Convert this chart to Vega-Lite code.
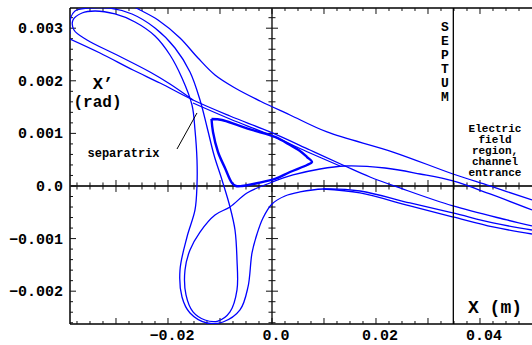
{
 "$schema": "https://vega.github.io/schema/vega-lite/v6.json",
 "width": 462, "height": 316,
 "autosize": {"type": "none"},
 "padding": {"left": 70, "top": 8, "right": 0, "bottom": 21},
 "background": "white",
 "config": {"view": {"stroke": null}},
 "datasets": {
  "xlab": [{"v":-0.02,"t":"−0.02"},{"v":0,"t":"0.0"},{"v":0.02,"t":"0.02"},{"v":0.04,"t":"0.04"}],
  "ylab": [{"v":0.003,"t":"0.003"},{"v":0.002,"t":"0.002"},{"v":0.001,"t":"0.001"},{"v":0,"t":"0.0"},{"v":-0.001,"t":"−0.001"},{"v":-0.002,"t":"−0.002"}],
  "xminor": [{"v":-0.0375},{"v":-0.035},{"v":-0.0325},{"v":-0.0275},{"v":-0.025},{"v":-0.0225},{"v":-0.0175},{"v":-0.015},{"v":-0.0125},{"v":-0.0075},{"v":-0.005},{"v":-0.0025},{"v":0.0025},{"v":0.005},{"v":0.0075},{"v":0.0125},{"v":0.015},{"v":0.0175},{"v":0.0225},{"v":0.025},{"v":0.0275},{"v":0.0325},{"v":0.035},{"v":0.0375},{"v":0.0425},{"v":0.045},{"v":0.0475}],
  "xmajor": [{"v":-0.03},{"v":-0.02},{"v":-0.01},{"v":0},{"v":0.01},{"v":0.02},{"v":0.03},{"v":0.04}],
  "yminor": [{"v":-0.0026},{"v":-0.0024},{"v":-0.0022},{"v":-0.0018},{"v":-0.0016},{"v":-0.0014},{"v":-0.0012},{"v":-0.0008},{"v":-0.0006},{"v":-0.0004},{"v":-0.0002},{"v":0.0002},{"v":0.0004},{"v":0.0006},{"v":0.0008},{"v":0.0012},{"v":0.0014},{"v":0.0016},{"v":0.0018},{"v":0.0022},{"v":0.0024},{"v":0.0026},{"v":0.0028},{"v":0.0032}],
  "ymajor": [{"v":-0.002},{"v":-0.001},{"v":0},{"v":0.001},{"v":0.002},{"v":0.003}],
  "curves": [
   {"c":"tri","i":1,"x":-0.011635,"y":0.001274},{"c":"tri","i":2,"x":-0.009615,"y":0.001255},{"c":"tri","i":3,"x":-0.006731,"y":0.00116},{"c":"tri","i":4,"x":-0.003846,"y":0.001065},{"c":"tri","i":5,"x":0.000577,"y":0.000932},{"c":"tri","i":6,"x":0.003462,"y":0.000779},{"c":"tri","i":7,"x":0.005385,"y":0.000665},{"c":"tri","i":8,"x":0.006731,"y":0.000551},{"c":"tri","i":9,"x":0.007692,"y":0.000456},{"c":"tri","i":10,"x":0.006731,"y":0.000399},{"c":"tri","i":11,"x":0.003462,"y":0.000266},{"c":"tri","i":12,"x":0.000577,"y":0.000133},{"c":"tri","i":13,"x":-0.002692,"y":0.000057},{"c":"tri","i":14,"x":-0.005769,"y":0},{"c":"tri","i":15,"x":-0.006923,"y":0},{"c":"tri","i":16,"x":-0.007692,"y":0.000057},{"c":"tri","i":17,"x":-0.009038,"y":0.000342},{"c":"tri","i":18,"x":-0.010385,"y":0.000646},{"c":"tri","i":19,"x":-0.011346,"y":0.001027},{"c":"tri","i":20,"x":-0.011635,"y":0.001274},
   {"c":"s","i":1,"x":-0.038846,"y":0.002795},{"c":"s","i":2,"x":-0.033077,"y":0.002529},{"c":"s","i":3,"x":-0.026731,"y":0.002205},{"c":"s","i":4,"x":-0.021538,"y":0.001958},{"c":"s","i":5,"x":-0.015192,"y":0.001635},{"c":"s","i":6,"x":-0.008077,"y":0.001331},{"c":"s","i":7,"x":-0.000385,"y":0.001027},{"c":"s","i":8,"x":0.007308,"y":0.000684},{"c":"s","i":9,"x":0.014038,"y":0.00038},{"c":"s","i":10,"x":0.018846,"y":0.000171},{"c":"s","i":11,"x":0.024615,"y":-0.000038},{"c":"s","i":12,"x":0.034808,"y":-0.00038},{"c":"s","i":13,"x":0.045192,"y":-0.000646},{"c":"s","i":14,"x":0.05,"y":-0.00076},
   {"c":"s2","i":1,"x":-0.015192,"y":0.001578},{"c":"s2","i":2,"x":-0.008077,"y":0.001274},{"c":"s2","i":3,"x":-0.000385,"y":0.00097},{"c":"s2","i":4,"x":0.007308,"y":0.000627},{"c":"s2","i":5,"x":0.013077,"y":0.00038},
   {"c":"u","i":1,"x":-0.027692,"y":0.00346},{"c":"u","i":2,"x":-0.025385,"y":0.003346},{"c":"u","i":3,"x":-0.021923,"y":0.003156},{"c":"u","i":4,"x":-0.017692,"y":0.002814},{"c":"u","i":5,"x":-0.014231,"y":0.002433},{"c":"u","i":6,"x":-0.010962,"y":0.00211},{"c":"u","i":7,"x":-0.007115,"y":0.001863},{"c":"u","i":8,"x":-0.002308,"y":0.001616},{"c":"u","i":9,"x":0.003462,"y":0.00135},{"c":"u","i":10,"x":0.010577,"y":0.001027},{"c":"u","i":11,"x":0.023269,"y":0.000646},{"c":"u","i":12,"x":0.034808,"y":0.000228},{"c":"u","i":13,"x":0.041923,"y":0},{"c":"u","i":14,"x":0.05,"y":-0.000266},
   {"c":"a","i":1,"x":-0.038846,"y":0.00289},{"c":"a","i":2,"x":-0.038846,"y":0.003156},{"c":"a","i":3,"x":-0.037885,"y":0.003327},{"c":"a","i":4,"x":-0.035385,"y":0.00338},{"c":"a","i":5,"x":-0.031154,"y":0.00338},{"c":"a","i":6,"x":-0.026923,"y":0.00327},{"c":"a","i":7,"x":-0.0225,"y":0.003004},{"c":"a","i":8,"x":-0.018654,"y":0.002624},{"c":"a","i":9,"x":-0.015769,"y":0.002167},{"c":"a","i":10,"x":-0.013846,"y":0.001635},{"c":"a","i":11,"x":-0.0125,"y":0.001122},{"c":"a","i":12,"x":-0.011154,"y":0.000589},{"c":"a","i":13,"x":-0.009615,"y":0.000114},{"c":"a","i":14,"x":-0.008077,"y":-0.000399},{"c":"a","i":15,"x":-0.007115,"y":-0.000837},{"c":"a","i":16,"x":-0.006731,"y":-0.001407},{"c":"a","i":17,"x":-0.006731,"y":-0.001977},{"c":"a","i":18,"x":-0.008077,"y":-0.002395},{"c":"a","i":19,"x":-0.010385,"y":-0.002567},{"c":"a","i":20,"x":-0.012885,"y":-0.002548},{"c":"a","i":21,"x":-0.015192,"y":-0.002395},{"c":"a","i":22,"x":-0.016538,"y":-0.002072},{"c":"a","i":23,"x":-0.016731,"y":-0.001597},{"c":"a","i":24,"x":-0.015769,"y":-0.001217},{"c":"a","i":25,"x":-0.013846,"y":-0.000875},{"c":"a","i":26,"x":-0.010962,"y":-0.000551},{"c":"a","i":27,"x":-0.008077,"y":-0.000399},{"c":"a","i":28,"x":-0.004808,"y":-0.000133},{"c":"a","i":29,"x":-0.000385,"y":0.000057},{"c":"a","i":30,"x":0.004038,"y":0.000209},{"c":"a","i":31,"x":0.009231,"y":0.000323},{"c":"a","i":32,"x":0.014038,"y":0.00038},{"c":"a","i":33,"x":0.021731,"y":0.000342},{"c":"a","i":34,"x":0.028462,"y":0.000228},{"c":"a","i":35,"x":0.034808,"y":0.000095},{"c":"a","i":36,"x":0.041923,"y":-0.000152},{"c":"a","i":37,"x":0.05,"y":-0.000456},
   {"c":"b","i":1,"x":-0.015192,"y":0.001635},{"c":"b","i":2,"x":-0.019615,"y":0.001939},{"c":"b","i":3,"x":-0.023462,"y":0.002167},{"c":"b","i":4,"x":-0.029808,"y":0.00249},{"c":"b","i":5,"x":-0.035577,"y":0.002776},{"c":"b","i":6,"x":-0.038077,"y":0.002966},{"c":"b","i":7,"x":-0.038269,"y":0.003156},{"c":"b","i":8,"x":-0.036538,"y":0.003289},{"c":"b","i":9,"x":-0.034038,"y":0.003327},{"c":"b","i":10,"x":-0.030192,"y":0.00327},{"c":"b","i":11,"x":-0.026346,"y":0.003118},{"c":"b","i":12,"x":-0.0225,"y":0.002852},{"c":"b","i":13,"x":-0.019615,"y":0.00249},{"c":"b","i":14,"x":-0.017308,"y":0.002053},{"c":"b","i":15,"x":-0.015385,"y":0.00154},{"c":"b","i":16,"x":-0.014808,"y":0.001065},{"c":"b","i":17,"x":-0.014423,"y":0.000494},{"c":"b","i":18,"x":-0.014423,"y":0.000019},{"c":"b","i":19,"x":-0.014808,"y":-0.000456},{"c":"b","i":20,"x":-0.016346,"y":-0.00097},{"c":"b","i":21,"x":-0.017692,"y":-0.001597},{"c":"b","i":22,"x":-0.017308,"y":-0.00211},{"c":"b","i":23,"x":-0.015769,"y":-0.002414},{"c":"b","i":24,"x":-0.0125,"y":-0.002605},{"c":"b","i":25,"x":-0.009423,"y":-0.002586},{"c":"b","i":26,"x":-0.006154,"y":-0.002357},{"c":"b","i":27,"x":-0.004615,"y":-0.00192},{"c":"b","i":28,"x":-0.003846,"y":-0.001274},{"c":"b","i":29,"x":-0.002885,"y":-0.000913},{"c":"b","i":30,"x":-0.001731,"y":-0.000608},{"c":"b","i":31,"x":0,"y":-0.000342},{"c":"b","i":32,"x":0.0025,"y":-0.00019},{"c":"b","i":33,"x":0.005385,"y":-0.000114},{"c":"b","i":34,"x":0.009808,"y":-0.000057},{"c":"b","i":35,"x":0.016923,"y":-0.000095},{"c":"b","i":36,"x":0.026538,"y":-0.000323},{"c":"b","i":37,"x":0.034808,"y":-0.000513},{"c":"b","i":38,"x":0.0425,"y":-0.000703},{"c":"b","i":39,"x":0.05,"y":-0.000837},
   {"c":"l2","i":1,"x":0.009808,"y":-0.000057},{"c":"l2","i":2,"x":0.016923,"y":-0.000133},{"c":"l2","i":3,"x":0.026538,"y":-0.00038},{"c":"l2","i":4,"x":0.034808,"y":-0.000589},{"c":"l2","i":5,"x":0.0425,"y":-0.000779},{"c":"l2","i":6,"x":0.05,"y":-0.000913}
  ]
 },
 "encoding": {
  "x": {"type": "quantitative", "scale": {"domain": [-0.038846, 0.05], "nice": false, "zero": false}, "axis": null},
  "y": {"type": "quantitative", "scale": {"domain": [-0.002624, 0.003384], "nice": false, "zero": false}, "axis": null}
 },
 "layer": [
  {"data": {"values": [{"k": 1}]}, "mark": {"type": "rule", "color": "#000", "strokeWidth": 1.5}, "encoding": {"x": {"datum": -0.038846}, "x2": {"datum": 0.05}, "y": {"datum": 0.003384}}},
  {"data": {"values": [{"k": 1}]}, "mark": {"type": "rule", "color": "#000", "strokeWidth": 1.5}, "encoding": {"x": {"datum": -0.038846}, "x2": {"datum": 0.05}, "y": {"datum": -0.002624}}},
  {"data": {"values": [{"k": 1}]}, "mark": {"type": "rule", "color": "#000", "strokeWidth": 1.5}, "encoding": {"x": {"datum": -0.038846}, "y": {"datum": -0.002624}, "y2": {"datum": 0.003384}}},
  {"data": {"values": [{"k": 1}]}, "mark": {"type": "rule", "color": "#333", "strokeWidth": 1.8}, "encoding": {"x": {"datum": -0.038846}, "x2": {"datum": 0.05}, "y": {"datum": 0}}},
  {"data": {"values": [{"k": 1}]}, "mark": {"type": "rule", "color": "#222", "strokeWidth": 1.5}, "encoding": {"x": {"datum": 0}, "y": {"datum": -0.002624}, "y2": {"datum": 0.003384}}},
  {"data": {"name": "xminor"}, "mark": {"type": "rule", "color": "#111", "strokeWidth": 1}, "encoding": {"x": {"field": "v"}, "y": {"datum": -0.002624}, "y2": {"datum": -0.002567}}},
  {"data": {"name": "xmajor"}, "mark": {"type": "rule", "color": "#111", "strokeWidth": 1}, "encoding": {"x": {"field": "v"}, "y": {"datum": -0.002624}, "y2": {"datum": -0.00251}}},
  {"data": {"name": "xminor"}, "mark": {"type": "rule", "color": "#111", "strokeWidth": 1}, "encoding": {"x": {"field": "v"}, "y": {"datum": 0.003384}, "y2": {"datum": 0.003327}}},
  {"data": {"name": "xmajor"}, "mark": {"type": "rule", "color": "#111", "strokeWidth": 1}, "encoding": {"x": {"field": "v"}, "y": {"datum": 0.003384}, "y2": {"datum": 0.00327}}},
  {"data": {"name": "xminor"}, "mark": {"type": "rule", "color": "#111", "strokeWidth": 1}, "encoding": {"x": {"field": "v"}, "y": {"datum": -0.000067}, "y2": {"datum": 0.000067}}},
  {"data": {"name": "xmajor"}, "mark": {"type": "rule", "color": "#111", "strokeWidth": 1}, "encoding": {"x": {"field": "v"}, "y": {"datum": -0.000114}, "y2": {"datum": 0.000114}}},
  {"data": {"name": "yminor"}, "mark": {"type": "rule", "color": "#111", "strokeWidth": 1}, "encoding": {"y": {"field": "v"}, "x": {"datum": -0.038846}, "x2": {"datum": -0.038269}}},
  {"data": {"name": "ymajor"}, "mark": {"type": "rule", "color": "#111", "strokeWidth": 1}, "encoding": {"y": {"field": "v"}, "x": {"datum": -0.038846}, "x2": {"datum": -0.037692}}},
  {"data": {"name": "yminor"}, "mark": {"type": "rule", "color": "#111", "strokeWidth": 1}, "encoding": {"y": {"field": "v"}, "x": {"datum": -0.000673}, "x2": {"datum": 0.000673}}},
  {"data": {"name": "ymajor"}, "mark": {"type": "rule", "color": "#111", "strokeWidth": 1}, "encoding": {"y": {"field": "v"}, "x": {"datum": -0.001154}, "x2": {"datum": 0.001154}}},
  {"data": {"name": "xlab"}, "mark": {"type": "text", "font": "Liberation Mono", "fontWeight": "bold", "fontSize": 15, "align": "center", "baseline": "top", "dy": 4, "dx": 4, "color": "#000"}, "encoding": {"x": {"field": "v"}, "y": {"datum": -0.002624}, "text": {"field": "t"}}},
  {"data": {"name": "ylab"}, "mark": {"type": "text", "font": "Liberation Mono", "fontWeight": "bold", "fontSize": 15, "align": "right", "baseline": "middle", "dx": -7, "color": "#000"}, "encoding": {"y": {"field": "v"}, "x": {"datum": -0.038846}, "text": {"field": "t"}}},
  {
   "data": {"name": "curves"},
   "transform": [{"filter": "datum.c != 'tri'"}],
   "mark": {"type": "line", "color": "#0000ff", "strokeWidth": 1.3, "clip": true, "interpolate": "catmull-rom"},
   "encoding": {
    "x": {"field": "x"},
    "y": {"field": "y"},
    "detail": {"field": "c", "type": "nominal"},
    "order": {"field": "i", "type": "quantitative"}
   }
  },
  {
   "data": {"name": "curves"},
   "transform": [{"filter": "datum.c == 'tri'"}],
   "mark": {"type": "line", "color": "#0000ff", "strokeWidth": 2.4, "clip": true, "interpolate": "catmull-rom", "strokeJoin": "round"},
   "encoding": {
    "x": {"field": "x"},
    "y": {"field": "y"},
    "order": {"field": "i", "type": "quantitative"}
   }
  },
  {"data": {"values": [{"k": 1}]}, "mark": {"type": "rule", "color": "#000", "strokeWidth": 1.3}, "encoding": {"x": {"datum": 0.03487}, "y": {"datum": -0.002624}, "y2": {"datum": 0.003384}}},
  {
   "data": {"values": [{"x": -0.018269, "y": 0.000703, "x2": -0.014423, "y2": 0.001388}]},
   "mark": {"type": "rule", "color": "#000", "strokeWidth": 1},
   "encoding": {"x": {"field": "x"}, "y": {"field": "y"}, "x2": {"field": "x2"}, "y2": {"field": "y2"}}
  },
  {
   "data": {"values": [{"x": -0.0325, "y": 0.001835, "t": "X’"}]},
   "mark": {"type": "text", "font": "Liberation Mono", "fontWeight": "bold", "fontSize": 17, "align": "center", "baseline": "alphabetic", "color": "#000"},
   "encoding": {"x": {"field": "x"}, "y": {"field": "y"}, "text": {"field": "t"}}
  },
  {
   "data": {"values": [{"x": -0.033558, "y": 0.001502, "t": "(rad)"}]},
   "mark": {"type": "text", "font": "Liberation Mono", "fontWeight": "bold", "fontSize": 16, "align": "center", "baseline": "alphabetic", "color": "#000"},
   "encoding": {"x": {"field": "x"}, "y": {"field": "y"}, "text": {"field": "t"}}
  },
  {
   "data": {"values": [{"x": -0.028558, "y": 0.00055, "t": "separatrix"}]},
   "mark": {"type": "text", "font": "Liberation Mono", "fontWeight": "bold", "fontSize": 12, "align": "center", "baseline": "alphabetic", "color": "#000"},
   "encoding": {"x": {"field": "x"}, "y": {"field": "y"}, "text": {"field": "t"}}
  },
  {
   "data": {"values": [{"x": 0.033269, "y": 0.003023, "t": "S\nE\nP\nT\nU\nM"}]},
   "mark": {"type": "text", "font": "Liberation Mono", "fontWeight": "bold", "fontSize": 13, "lineHeight": 14, "lineBreak": "\n", "align": "center", "baseline": "middle", "color": "#000"},
   "encoding": {"x": {"field": "x"}, "y": {"field": "y"}, "text": {"field": "t"}}
  },
  {
   "data": {"values": [{"x": 0.042885, "y": 0.001084, "t": "Electric\nfield\nregion,\nchannel\nentrance"}]},
   "mark": {"type": "text", "font": "Liberation Mono", "fontWeight": "bold", "fontSize": 11, "lineHeight": 11, "lineBreak": "\n", "align": "center", "baseline": "middle", "color": "#000"},
   "encoding": {"x": {"field": "x"}, "y": {"field": "y"}, "text": {"field": "t"}}
  },
  {
   "data": {"values": [{"x": 0.042885, "y": -0.002414, "t": "X (m)"}]},
   "mark": {"type": "text", "font": "Liberation Mono", "fontWeight": "bold", "fontSize": 18, "align": "center", "baseline": "alphabetic", "color": "#000"},
   "encoding": {"x": {"field": "x"}, "y": {"field": "y"}, "text": {"field": "t"}}
  }
 ]
}
